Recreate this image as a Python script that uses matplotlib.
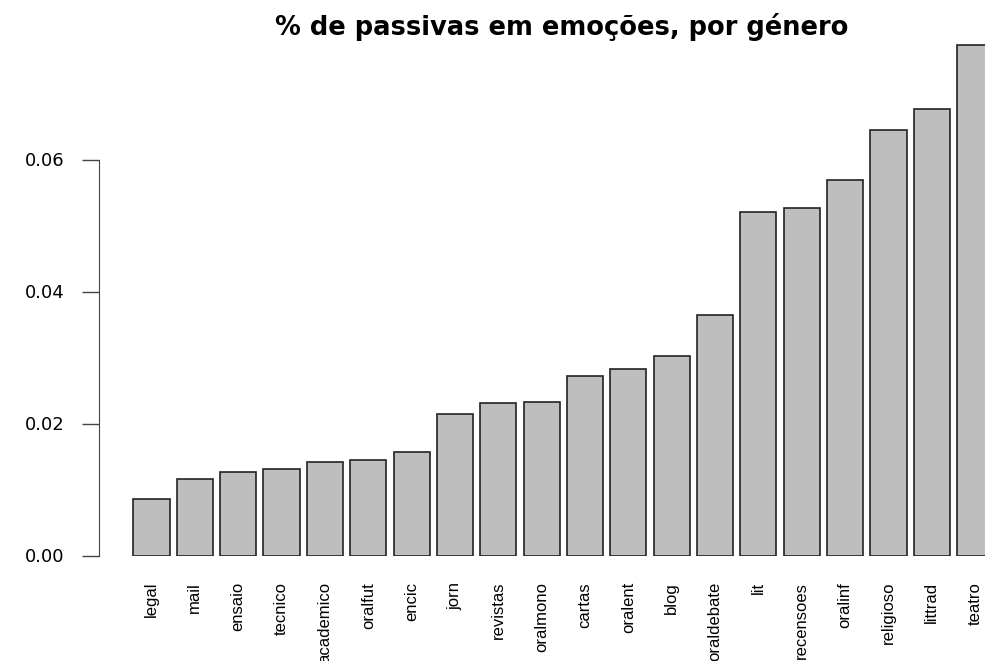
import matplotlib
matplotlib.use("Agg")
from matplotlib import pyplot as plt
from matplotlib import font_manager

generos = ["legal", "mail", "ensaio", "tecnico", "academico", "oralfut", "encic",
           "jorn", "revistas", "oralmono", "cartas", "oralent", "blog", "oraldebate",
           "lit", "recensoes", "oralinf", "religioso", "littrad", "teatro"]
passivas = [0.0086, 0.0116, 0.0127, 0.0131, 0.0142, 0.0144, 0.0157,
            0.0214, 0.0231, 0.0233, 0.0272, 0.0283, 0.0302, 0.0364,
            0.0520, 0.0527, 0.0569, 0.0645, 0.0677, 0.0774]
y_ticks = [0.00, 0.02, 0.04, 0.06]
y_labels = ["0.00", "0.02", "0.04", "0.06"]

names = {f.name for f in font_manager.fontManager.ttflist}
label_font = "Liberation Sans Narrow" if "Liberation Sans Narrow" in names else "Liberation Sans"

W, H = 985, 661
fig = plt.figure(figsize=(W / 100, H / 100), dpi=100)
# axes placed in pixel terms: left spine at x=99, zero line at y=555.5
ax = fig.add_axes([99 / W, (H - 555.5) / H, 1 - 99 / W, (555.5 - 30) / H])

pos = list(range(len(generos)))
ax.bar(pos, passivas, width=1 / 1.2, color="#bebebe", edgecolor="#222222", linewidth=1.2)

period = 43.35
ax.set_xlim((99 - 151.5) / period, (985 - 151.5) / period)
ax.set_ylim(0, (555.5 - 30) / 6600)

for s in ["top", "right", "bottom"]:
    ax.spines[s].set_visible(False)
ax.spines["left"].set_bounds(0, 0.06)
ax.spines["left"].set_color("#444444")

ax.set_yticks(y_ticks)
ax.set_yticklabels(y_labels, fontsize=13, family="DejaVu Sans")
ax.tick_params(axis="y", length=12, width=1, color="#444444", pad=13)

ax.set_xticks(pos)
ax.set_xticklabels(generos, rotation=90, va="top", ha="center", fontsize=12, family=label_font)
ax.tick_params(axis="x", length=0, pad=19)

fig.text(561.7 / W, (H - 27) / H, "% de passivas em emoções, por género",
         ha="center", va="center", fontsize=18.5, fontweight="bold", family="DejaVu Sans")

fig.savefig("out.png", dpi=100)
